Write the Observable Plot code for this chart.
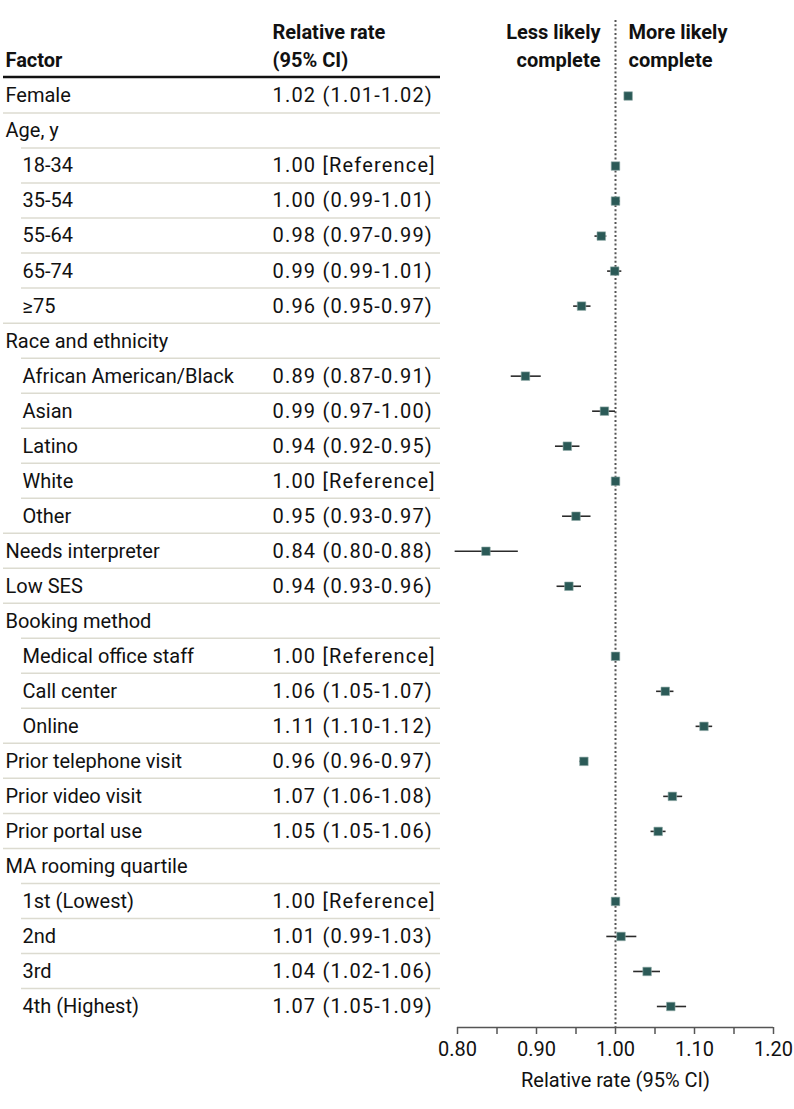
<!DOCTYPE html>
<html>
<head>
<meta charset="utf-8">
<script src="https://cdn.jsdelivr.net/npm/d3@7"></script>
<script src="https://cdn.jsdelivr.net/npm/@observablehq/plot@0.6"></script>
<style>
  html, body { margin: 0; padding: 0; background: #fff; overflow: hidden; }
  #chart svg { display: block; }
</style>
</head>
<body>
<div id="chart"></div>
<script>
// ---- data ----
const factors = ["Female", "Age, y", "18-34", "35-54", "55-64", "65-74", "\u226575",
  "Race and ethnicity", "African American/Black", "Asian", "Latino", "White", "Other",
  "Needs interpreter", "Low SES", "Booking method", "Medical office staff", "Call center", "Online",
  "Prior telephone visit", "Prior video visit", "Prior portal use", "MA rooming quartile",
  "1st (Lowest)", "2nd", "3rd", "4th (Highest)"];
const levels = [0, 0, 1, 1, 1, 1, 1, 0, 1, 1, 1, 1, 1, 0, 0, 0, 1, 1, 1, 0, 0, 0, 0, 1, 1, 1, 1];
const rrText = ["1.02 (1.01-1.02)", "", "1.00 [Reference]", "1.00 (0.99-1.01)", "0.98 (0.97-0.99)",
  "0.99 (0.99-1.01)", "0.96 (0.95-0.97)", "", "0.89 (0.87-0.91)", "0.99 (0.97-1.00)",
  "0.94 (0.92-0.95)", "1.00 [Reference]", "0.95 (0.93-0.97)", "0.84 (0.80-0.88)",
  "0.94 (0.93-0.96)", "", "1.00 [Reference]", "1.06 (1.05-1.07)", "1.11 (1.10-1.12)",
  "0.96 (0.96-0.97)", "1.07 (1.06-1.08)", "1.05 (1.05-1.06)", "", "1.00 [Reference]",
  "1.01 (0.99-1.03)", "1.04 (1.02-1.06)", "1.07 (1.05-1.09)"];
const estimates = [1.016, null, 1.000, 1.000, 0.982, 0.999, 0.957, null, 0.886, 0.986, 0.939, 1.000, 0.950,
  0.836, 0.941, null, 1.000, 1.063, 1.112, 0.960, 1.072, 1.054, null, 1.000, 1.007, 1.040, 1.070];
const ciLow = [1.012, null, null, 0.997, 0.974, 0.990, 0.947, null, 0.868, 0.971, 0.924, null, 0.933,
  0.797, 0.926, null, null, 1.052, 1.102, 0.955, 1.061, 1.045, null, null, 0.989, 1.023, 1.053];
const ciHigh = [1.020, null, null, 1.006, 0.989, 1.008, 0.969, null, 0.906, 1.000, 0.955, null, 0.969,
  0.877, 0.957, null, null, 1.074, 1.123, 0.965, 1.085, 1.064, null, null, 1.027, 1.057, 1.090];
const xTicks = [0.80, 0.85, 0.90, 0.95, 1.00, 1.05, 1.10, 1.15, 1.20];
const xTickLabels = ["0.80", "", "0.90", "", "1.00", "", "1.10", "", "1.20"];
const colHeaders = ["Factor", "Relative rate", "(95% CI)"];
const sideHeaders = ["Less likely", "complete", "More likely", "complete"];
const xLabel = "Relative rate (95% CI)";

// ---- table built from arrays ----
const rows = factors.map((f, i) => ({
  i, factor: f, level: levels[i], rr: rrText[i],
  est: estimates[i], lo: ciLow[i], hi: ciHigh[i]
}));
const pts = rows.filter(d => d.est != null);
const cis = rows.filter(d => d.lo != null);

const FONT = "Roboto, 'Liberation Sans', sans-serif";
const FS = 20;
const W = 794, H = 1109;
const ML = 457, MR = 21, MT = 20, MB = 82;
const TEXT = "#111";

// separators for the table (drawn via Plot's y scale)
function tableLines(index, scales, values, dims) {
  const g = d3.create("svg:g");
  const yTop = scales.y(-0.5) - 1;
  g.append("line").attr("x1", 3).attr("x2", 440).attr("y1", yTop).attr("y2", yTop)
    .attr("stroke", "#111").attr("stroke-width", 2.5);
  for (let k = 0; k < rows.length - 1; k++) {
    const y = scales.y(k + 0.5);
    const x1 = rows[k + 1].level === 1 ? 21 : 3;
    g.append("line").attr("x1", x1).attr("x2", 440).attr("y1", y).attr("y2", y)
      .attr("stroke", "#dcdbd0").attr("stroke-width", 1.5);
  }
  return g.node();
}

const hdr = (txt, opts) => Plot.text([txt], Object.assign({
  fontSize: FS, fontWeight: 700, fill: TEXT, lineAnchor: "middle"
}, opts));

const chart = Plot.plot({
  width: W, height: H,
  marginLeft: ML, marginRight: MR, marginTop: MT, marginBottom: MB,
  style: { fontFamily: FONT, fontSize: FS + "px", color: TEXT, background: "#fff", overflow: "visible" },
  x: { domain: [0.8, 1.2], range: [ML, W - MR] },
  y: { domain: [-0.5, 26.6], range: [78, H - MB], axis: null },
  marks: [
    tableLines,
    // reference dotted line at 1.00
    Plot.ruleX([1], { stroke: "#555", strokeWidth: 2, strokeDasharray: "2,2.3" }),
    // x axis
    Plot.ruleY([26.6], { x1: 0.8, x2: 1.2, stroke: "#555", strokeWidth: 1.5 }),
    Plot.axisX({ ticks: xTicks, tickFormat: (d, i) => xTickLabels[i], tickSize: 7, tickPadding: 7,
      stroke: "#555", strokeWidth: 1.5, fontSize: FS, fill: TEXT, label: null }),
    Plot.text([xLabel], { x: 1, frameAnchor: "bottom", dy: 53, lineAnchor: "middle", fontSize: FS, fill: TEXT }),
    // CI lines and estimates
    Plot.ruleY(cis, { y: "i", x1: "lo", x2: "hi", stroke: "#2b2b2b", strokeWidth: 1.6 }),
    Plot.dot(pts, { x: "est", y: "i", symbol: "square", r: 4.8, fill: "#2b5a57", stroke: "#8fa9a6", strokeWidth: 0.6 }),
    // table text
    Plot.text(rows.filter(d => d.level === 0), { y: "i", text: "factor", frameAnchor: "left", dx: 5 - ML,
      textAnchor: "start", fontSize: FS, fill: TEXT }),
    Plot.text(rows.filter(d => d.level === 1), { y: "i", text: "factor", frameAnchor: "left", dx: 22 - ML,
      textAnchor: "start", fontSize: FS, fill: TEXT }),
    Plot.text(rows.filter(d => d.rr !== ""), { y: "i", text: "rr", frameAnchor: "left", dx: 272 - ML,
      textAnchor: "start", fontSize: FS, fill: TEXT }),
    // headers
    hdr(colHeaders[0], { frameAnchor: "top-left", dx: 5 - ML, dy: 40, textAnchor: "start" }),
    hdr(colHeaders[1], { frameAnchor: "top-left", dx: 272 - ML, dy: 12, textAnchor: "start" }),
    hdr(colHeaders[2], { frameAnchor: "top-left", dx: 272 - ML, dy: 40, textAnchor: "start" }),
    hdr(sideHeaders[0], { x: 1, frameAnchor: "top", dx: -15, dy: 12, textAnchor: "end" }),
    hdr(sideHeaders[1], { x: 1, frameAnchor: "top", dx: -15, dy: 40, textAnchor: "end" }),
    hdr(sideHeaders[2], { x: 1, frameAnchor: "top", dx: 13, dy: 12, textAnchor: "start" }),
    hdr(sideHeaders[3], { x: 1, frameAnchor: "top", dx: 13, dy: 40, textAnchor: "start" })
  ]
});
// widen the relative-rate column's glyph spacing to match the reference typeface
d3.select(chart).selectAll("text")
  .filter(function () { return rrText.includes(this.textContent) && this.textContent !== ""; })
  .attr("letter-spacing", "1.2px");
document.getElementById("chart").appendChild(chart);
</script>
</body>
</html>
